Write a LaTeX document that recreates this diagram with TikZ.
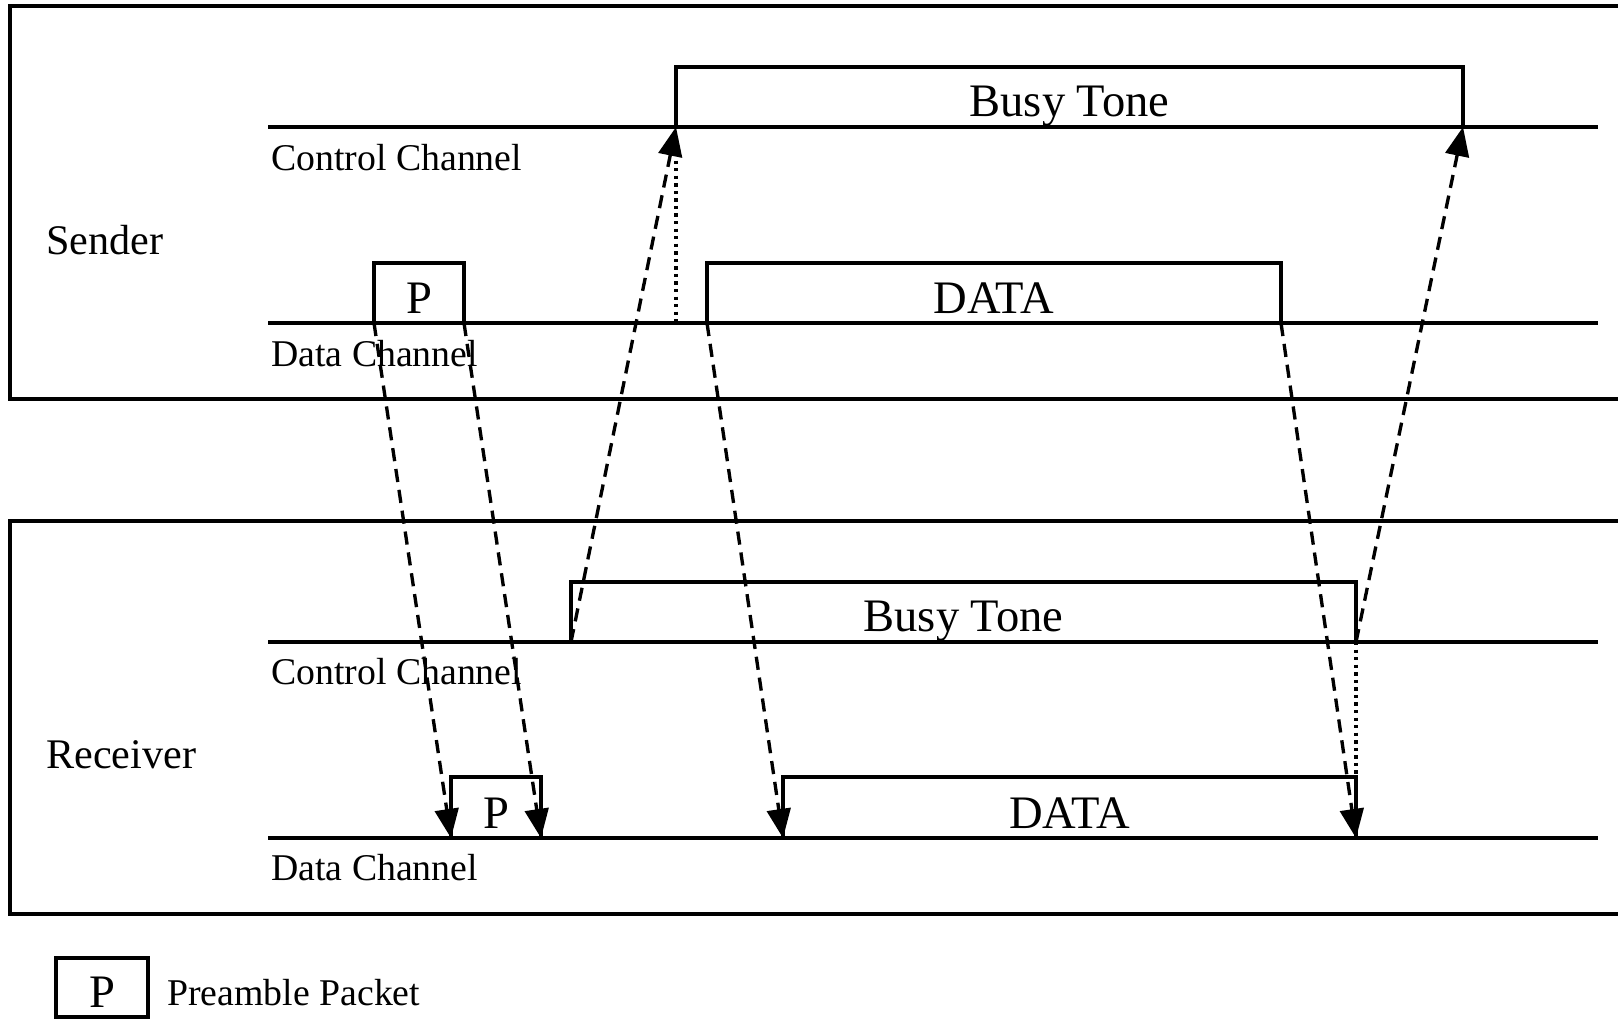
\documentclass[tikz,border=0pt]{standalone}
\usepackage{fontspec}
\setmainfont{Liberation Serif}
\usetikzlibrary{arrows.meta,positioning,calc}

\begin{document}
\begin{tikzpicture}[x=0.02cm,y=-0.02cm,
    chan/.style={line width=2.8pt},
    frame/.style={line width=2.2pt},
    pkt/.style={line width=2pt},
    msg/.style={line width=1.9pt,dash pattern=on 7.5pt off 4.5pt,-{Triangle[length=16.5pt,width=13.5pt]}},
    hold/.style={line width=1.9pt,dash pattern=on 1.9pt off 2.4pt},
    lbl/.style={font=\fontsize{21.5}{24}\selectfont,anchor=west,inner sep=0pt},
    side/.style={font=\fontsize{24}{28}\selectfont,anchor=west,inner sep=0pt},
    big/.style={font=\fontsize{26.5}{30}\selectfont,inner sep=0pt,anchor=base}]
    \useasboundingbox (0,0) rectangle (1618,1018);
    % Sender
    \draw[frame] (1618,6) -- (10,6) -- (10,399) -- (1618,399);
    \draw[chan] (268,127) coordinate (sC0) -- (1598,127);
    \draw[chan] (268,323) coordinate (sL0) -- (1598,323);
    \node[lbl] (sCl) at (271,158) {Control Channel};
    \node[lbl] (sLl) at (271,354) {Data Channel};
    \node[side] (snd) at (46,240) {Sender};
    \coordinate (sB1) at (676,127);
    \coordinate (sB2) at (1463,127);
    \coordinate (sP1) at (374,323);
    \coordinate (sP2) at (464,323);
    \coordinate (sD1) at (707,323);
    \coordinate (sD2) at (1281,323);
    \coordinate (sH) at (676,323);
    \draw[pkt] (sB1) -- ++(0,-60) -| (sB2);
    \node[big] (sBt) at ($(sB1)!0.5!(sB2)+(0,-11)$) {Busy Tone};
    \draw[pkt] (sP1) -- ++(0,-60) -| (sP2);
    \node[big] (sPt) at ($(sP1)!0.5!(sP2)+(0,-10)$) {P};
    \draw[pkt] (sD1) -- ++(0,-60) -| (sD2);
    \node[big] (sDt) at ($(sD1)!0.5!(sD2)+(0,-10)$) {DATA};
    \draw[hold] ($(sB1)+(0,26)$) -- (sH);
    % Receiver
    \draw[frame] (1618,521) -- (10,521) -- (10,914) -- (1618,914);
    \draw[chan] (268,642) coordinate (rC0) -- (1598,642);
    \draw[chan] (268,838) coordinate (rL0) -- (1598,838);
    \node[lbl] (rCl) at (271,672) {Control Channel};
    \node[lbl] (rLl) at (271,868) {Data Channel};
    \node[side] (rcv) at (46,755) {Receiver};
    \coordinate (rB1) at (571,642);
    \coordinate (rB2) at (1356,642);
    \coordinate (rP1) at (451,838);
    \coordinate (rP2) at (541,838);
    \coordinate (rD1) at (783,838);
    \coordinate (rD2) at (1356,838);
    \draw[pkt] (rB1) -- ++(0,-60) -| (rB2);
    \node[big] (rBt) at ($(rB1)!0.5!(rB2)+(0,-11)$) {Busy Tone};
    \draw[pkt] (rP1) -- ++(0,-61) -| (rP2);
    \node[big] (rPt) at ($(rP1)!0.5!(rP2)+(0,-10)$) {P};
    \draw[pkt] (rD1) -- ++(0,-61) -| (rD2);
    \node[big] (rDt) at ($(rD1)!0.5!(rD2)+(0,-10)$) {DATA};
    \draw[hold] (rB2) -- (rD2);
    % Messages
    \draw[msg] (sP1) -- (rP1);
    \draw[msg] (sP2) -- (rP2);
    \draw[msg] (rB1) -- (sB1);
    \draw[msg] (sD1) -- (rD1);
    \draw[msg] (sD2) -- (rD2);
    \draw[msg] (rB2) -- (sB2);
    % Legend
    \draw[pkt] (56,958) rectangle (148,1017);
    \node[big] (lgP) at (102,1007) {P};
    \node[lbl] (lgT) at (167,993) {Preamble Packet};
\end{tikzpicture}
\end{document}
